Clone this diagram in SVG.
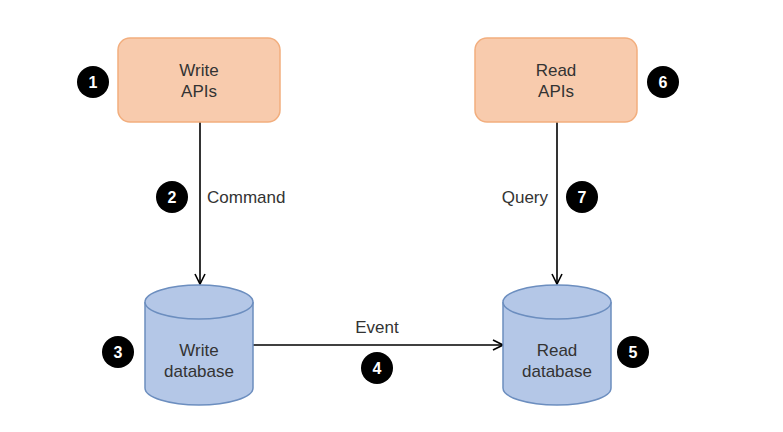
<svg xmlns="http://www.w3.org/2000/svg" width="783" height="432" viewBox="0 0 783 432">
<style>
.api{fill:#F8CBAD;stroke:#F2AE7E;stroke-width:1.5}
.db{fill:#B4C7E7;stroke:#6C8EBF;stroke-width:1.5}
.lbl{font-family:"Liberation Sans",Arial,sans-serif;font-size:17px;fill:#333333}
.edge{stroke:#000;stroke-width:1.6;fill:none}
.badge circle{fill:#000}
.badge text{font-family:"Liberation Sans",Arial,sans-serif;font-size:16px;font-weight:bold;fill:#fff;text-anchor:middle}
</style>
<defs>
<marker id="arr" viewBox="0 0 12 12" refX="11" refY="6" markerWidth="12" markerHeight="12" markerUnits="userSpaceOnUse" orient="auto">
<path d="M1,1 L11,6 L1,11" fill="none" stroke="#000" stroke-width="1.6"/>
</marker>
</defs>
<rect width="783" height="432" fill="#fff"/>
<g id="connectors">
<line class="edge" x1="200" y1="122" x2="200" y2="284" marker-end="url(#arr)"/>
<line class="edge" x1="557" y1="122" x2="557" y2="284" marker-end="url(#arr)"/>
<line class="edge" x1="253" y1="345" x2="503" y2="345" marker-end="url(#arr)"/>
<text class="lbl" x="207" y="203">Command</text>
<text class="lbl" x="548" y="203" text-anchor="end">Query</text>
<text class="lbl" x="377" y="333" text-anchor="middle">Event</text>
</g>
<g id="write-apis">
<rect class="api" x="118" y="38" width="162" height="84" rx="12"/>
<text class="lbl" x="199" y="76" text-anchor="middle">Write</text>
<text class="lbl" x="199" y="97" text-anchor="middle">APIs</text>
</g>
<g id="read-apis">
<rect class="api" x="475" y="38" width="162" height="84" rx="12"/>
<text class="lbl" x="556" y="76" text-anchor="middle">Read</text>
<text class="lbl" x="556" y="97" text-anchor="middle">APIs</text>
</g>
<g id="write-db">
<path class="db" d="M145,302 A54,17 0 0 1 253,302 L253,388 A54,17 0 0 1 145,388 Z"/>
<path class="db" d="M145,302 A54,17 0 0 0 253,302" fill="none"/>
<text class="lbl" x="199" y="356" text-anchor="middle">Write</text>
<text class="lbl" x="199" y="377" text-anchor="middle">database</text>
</g>
<g id="read-db">
<path class="db" d="M503,302 A54,17 0 0 1 611,302 L611,388 A54,17 0 0 1 503,388 Z"/>
<path class="db" d="M503,302 A54,17 0 0 0 611,302" fill="none"/>
<text class="lbl" x="557" y="356" text-anchor="middle">Read</text>
<text class="lbl" x="557" y="377" text-anchor="middle">database</text>
</g>
<g id="badge-1" class="badge"><circle cx="93" cy="82" r="16"/><text x="93" y="88">1</text></g>
<g id="badge-2" class="badge"><circle cx="172" cy="197" r="16"/><text x="172" y="203">2</text></g>
<g id="badge-3" class="badge"><circle cx="118" cy="352" r="16"/><text x="118" y="358">3</text></g>
<g id="badge-4" class="badge"><circle cx="377" cy="368" r="16"/><text x="377" y="374">4</text></g>
<g id="badge-5" class="badge"><circle cx="633" cy="352" r="16"/><text x="633" y="358">5</text></g>
<g id="badge-6" class="badge"><circle cx="663" cy="82" r="16"/><text x="663" y="88">6</text></g>
<g id="badge-7" class="badge"><circle cx="582" cy="197" r="16"/><text x="582" y="203">7</text></g>
</svg>
